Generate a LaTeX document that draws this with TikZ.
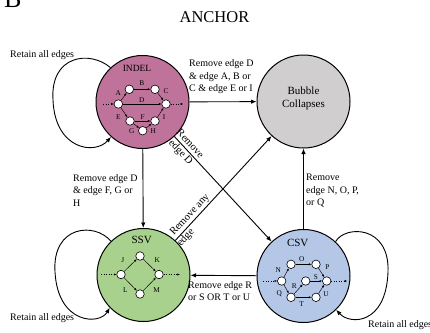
\documentclass[tikz,border=0pt]{standalone}
\usepackage{fontspec}
\setmainfont{Liberation Serif}
\usetikzlibrary{arrows.meta}
\definecolor{indelc}{HTML}{C0739A}
\definecolor{bubc}{HTML}{D0CECE}
\definecolor{ssvc}{HTML}{A9D18E}
\definecolor{csvc}{HTML}{B4C7E7}
\begin{document}
\begin{tikzpicture}[x=1pt,y=-1pt,
  big/.style={circle,draw,line width=1pt,minimum size=93pt,inner sep=0pt},
  sm/.style={circle,draw,fill=white,line width=0.6pt,minimum size=8.5pt,inner sep=0pt},
  lab/.style={font=\fontsize{10}{12.5}\selectfont,align=left,inner sep=0pt,anchor=north west},
  dlab/.style={font=\fontsize{10.5}{11}\selectfont,inner sep=0pt},
  main/.style={line width=0.9pt,-{Latex[length=5.5pt,width=4.5pt]}},
  ie/.style={line width=0.45pt,-{Latex[length=2.6pt,width=2.2pt]}},
  dots/.style={dotted,line width=0.5pt,-{Latex[length=2.6pt,width=2.2pt]}},
  il/.style={font=\fontsize{7.3}{8}\selectfont,inner sep=0pt},
  title/.style={font=\fontsize{11}{13}\selectfont,align=center,inner sep=0pt}
]
\useasboundingbox (0,0) rectangle (430,332);
\node[anchor=base west,inner sep=0pt,font=\fontsize{26}{26}\selectfont] (fig) at (4,8) {B};
\node[inner sep=0pt,font=\fontsize{16.5}{17}\selectfont] (anchor) at (214.5,17) {ANCHOR};

% big circles
\node[big,fill=indelc] (indel) at (142.5,102) {};
\node[big,fill=bubc] (bub) at (303.5,101.5) {};
\node[big,fill=ssvc] (ssv) at (143.5,275) {};
\node[big,fill=csvc] (csv) at (303.5,276) {};

\node[title] (bubt) at (303.5,98.5) {Bubble\\Collapses};
\node[il,font=\fontsize{9.5}{10}\selectfont] (indt) at (137,68.5) {INDEL};
\node[title] (ssvt) at (141.7,240) {SSV};
\node[title] (csvt) at (297.7,243.3) {CSV};

% main connectors
\draw[main] (indel) -- (bub);
\draw[main] (indel) -- (ssv);
\draw[main] (indel) -- (csv);
\draw[main] (ssv) -- (bub);
\draw[main] (csv) -- (bub);
\draw[main] (csv) -- (ssv);
\node[dlab,rotate=-47.2] (lr1) at (190.4,143.5) {Remove};
\node[dlab,rotate=-47.2] (lr2) at (180.5,152.6) {edge D};
\node[dlab,rotate=47.3] (la1) at (190,215) {Remove any};
\node[dlab,rotate=47.3] (la2) at (185.9,237.5) {edge};

% self loops
\draw[main] (indel.133) .. controls (90,50) and (50,55) .. (53,100)
  .. controls (55,150) and (95,155) .. (indel.228);
\draw[main] (ssv.134) .. controls (95,222) and (52,225) .. (55,272)
  .. controls (58,325) and (100,325) .. (ssv.224);
\draw[main] (csv.47) .. controls (345,225) and (390,225) .. (388,272)
  .. controls (386,325) and (350,325) .. (csv.314);

% labels
\node[lab] (t1) at (189,59.5) {Remove edge D\\\& edge A, B or\\C \& edge E or I};
\node[lab] (t2) at (73,174) {Remove edge D\\\& edge F, G or\\H};
\node[lab] (t3) at (306,174) {Remove\\edge N, O, P,\\or Q};
\node[lab] (t4) at (188,281) {Remove edge R\\or S OR T or U};
\node[lab] (r1) at (10,50) {Retain all edges};
\node[lab] (r2) at (10,313.5) {Retain all edges};
\node[lab] (r3) at (368,320.5) {Retain all edges};

% INDEL inner graph
\node[sm] (i1) at (118.3,104) {};
\node[sm] (i2) at (129.3,89.3) {};
\node[sm] (i3) at (155,89.3) {};
\node[sm] (i4) at (166,104) {};
\node[sm] (i5) at (130,121) {};
\node[sm] (i6) at (155,121) {};
\node[sm] (i7) at (142.7,130.7) {};
\coordinate (iin) at (103.3,104);
\coordinate (iout) at (183.3,104);
\draw[dots] (iin) -- (i1);
\draw[dots] (i4) -- (iout);
\draw[ie] (i1) -- (i2);
\draw[ie] (i2) -- (i3);
\draw[ie] (i3) -- (i4);
\draw[ie] (i1) -- (i4);
\draw[ie] (i1) -- (i5);
\draw[ie] (i5) -- (i6);
\draw[ie] (i6) -- (i4);
\draw[ie] (i5) -- (i7);
\draw[ie] (i7) -- (i6);
\node[il] (lA) at (118.3,93.3) {A};
\node[il] (lB) at (141.7,82.7) {B};
\node[il] (lC) at (166,91) {C};
\node[il] (lD) at (141.7,100.2) {D};
\node[il] (lE) at (118.3,116.7) {E};
\node[il] (lF) at (142.7,116.7) {F};
\node[il] (lI) at (164,116.7) {I};
\node[il] (lG) at (131.7,131) {G};
\node[il] (lH) at (153.3,131) {H};

% SSV inner graph
\node[sm] (s1) at (121,274.5) {};
\node[sm] (s2) at (140,256) {};
\node[sm] (s3) at (159,274.5) {};
\node[sm] (s4) at (140,294) {};
\coordinate (sin) at (101,274.5);
\coordinate (sout) at (180,274.5);
\draw[dots] (sin) -- (s1);
\draw[dots] (s3) -- (sout);
\draw[ie] (s1) -- (s2);
\draw[ie] (s2) -- (s3);
\draw[ie] (s1) -- (s4);
\draw[ie] (s4) -- (s3);
\node[il] (lJ) at (122.7,260) {J};
\node[il] (lK) at (157.3,260) {K};
\node[il] (lL) at (125.3,290) {L};
\node[il] (lM) at (156.7,290) {M};

% CSV inner graph
\node[sm] (c1) at (281.7,281) {};
\node[sm] (c2) at (291,264.3) {};
\node[sm] (c3) at (316,264.3) {};
\node[sm] (c4) at (326.7,281) {};
\node[sm] (c5) at (305.7,281) {};
\node[sm] (c6) at (291,297.3) {};
\node[sm] (c7) at (316,297.3) {};
\coordinate (cin) at (263.3,281);
\coordinate (cout) at (347.3,281);
\draw[dots] (cin) -- (c1);
\draw[dots] (c4) -- (cout);
\draw[ie] (c1) -- (c2);
\draw[ie] (c2) -- (c3);
\draw[ie] (c3) -- (c4);
\draw[ie] (c1) -- (c6);
\draw[ie] (c6) -- (c5);
\draw[ie] (c5) -- (c4);
\draw[ie] (c6) -- (c7);
\draw[ie] (c7) -- (c4);
\node[il] (lN) at (278.3,270) {N};
\node[il] (lO) at (301.7,259) {O};
\node[il] (lP) at (327.3,266.7) {P};
\node[il] (lS) at (316,276.7) {S};
\node[il] (lR) at (294.3,286) {R};
\node[il] (lQ) at (279.3,294) {Q};
\node[il] (lU) at (326,294) {U};
\node[il] (lT) at (301.7,304) {T};
\end{tikzpicture}
\end{document}
